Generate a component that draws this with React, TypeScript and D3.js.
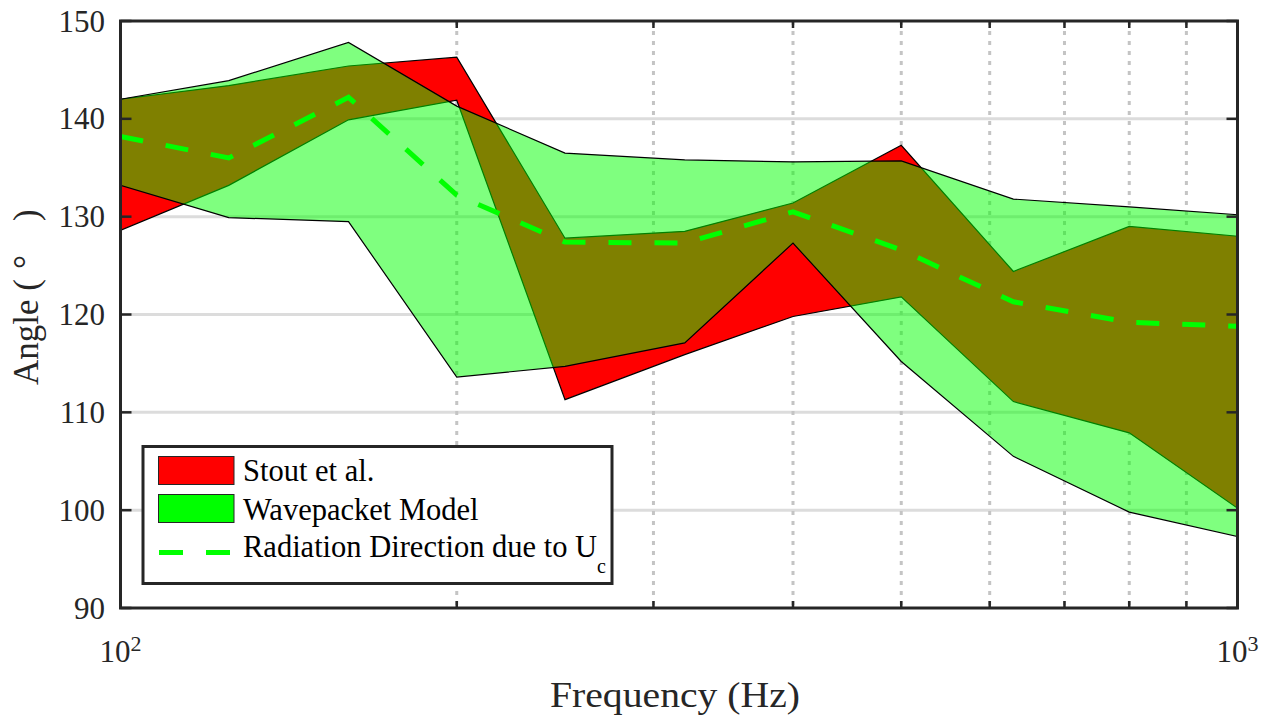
import React from 'react';
import * as d3 from 'd3';

// Frequencies (Hz) of the third-octave bands
const freqs = [100, 125, 160, 200, 250, 320, 400, 500, 630, 800, 1000];
// Stout et al. band (deg)
const stoutUpper = [142.0, 143.4, 145.4, 146.3, 127.8, 128.5, 131.4, 137.3, 124.4, 129.0, 128.0];
const stoutLower = [128.6, 133.2, 139.9, 141.9, 111.3, 115.9, 119.8, 121.8, 111.1, 107.9, 100.2];
// Wavepacket model band (deg)
const wpUpper = [142.0, 143.9, 147.8, 141.3, 136.5, 135.8, 135.6, 135.7, 131.8, 131.0, 130.2];
const wpLower = [133.2, 129.9, 129.5, 113.6, 114.7, 117.1, 127.3, 115.2, 105.5, 99.8, 97.3];
// Radiation direction due to Uc (deg)
const ucDir = [138.2, 136.0, 142.2, 132.2, 127.4, 127.3, 130.5, 126.6, 121.3, 119.2, 118.8];

const yTicks = [90, 100, 110, 120, 130, 140, 150];
const xMinorTicks = [200, 300, 400, 500, 600, 700, 800, 900];
const xMajorTicks = [100, 1000];
const xMajorExp = ['2', '3'];
const legendLabels = ['Stout et al.', 'Wavepacket Model', 'Radiation Direction due to U'];

const W = 1270;
const H = 719;
const L = 120.5, R = 1237.5, T = 21, B = 608;
const AX = '#262626';
const FONT = '"Liberation Serif", "Times New Roman", serif';

export default function App() {
  const x = d3.scaleLog().domain([100, 1000]).range([L, R]);
  const y = d3.scaleLinear().domain([90, 150]).range([B, T]);

  const band = (lo: number[], hi: number[]) =>
    d3.area<number>()
      .x((_, i) => x(freqs[i]))
      .y0((_, i) => y(lo[i]))
      .y1((_, i) => y(hi[i]))(freqs) || '';

  const line = d3.line<number>()
    .x((_, i) => x(freqs[i]))
    .y((d) => y(d))(ucDir) || '';

  const legX = 143, legY = 446.5, legW = 469, legH = 137;

  return (
    <svg width={W} height={H} style={{ position: 'absolute', left: 0, top: 0, background: '#fff' }}
      fontFamily={FONT}>
      <rect x={0} y={0} width={W} height={H} fill="#fff" />
      {/* horizontal grid */}
      {yTicks.slice(1, -1).map((t) => (
        <line key={'hg' + t} x1={L} x2={R} y1={y(t)} y2={y(t)} stroke="#dcdcdc" strokeWidth={3} />
      ))}
      {/* vertical minor grid (dotted) */}
      {xMinorTicks.map((t) => (
        <line key={'vg' + t} x1={x(t)} x2={x(t)} y1={T} y2={B} stroke="#c4c4c4" strokeWidth={3}
          strokeDasharray="4 6" />
      ))}
      {/* Stout et al. */}
      <path d={band(stoutLower, stoutUpper)} fill="#ff0000" stroke="#000" strokeWidth={1.2}
        strokeLinejoin="miter" />
      {/* Wavepacket */}
      <path d={band(wpLower, wpUpper)} fill="#00ff00" fillOpacity={0.5} stroke="#000"
        strokeWidth={1.2} />
      {/* Uc direction */}
      <path d={line} fill="none" stroke="#00ff00" strokeWidth={5} strokeDasharray="23 23" />

      {/* axes box */}
      <rect x={L} y={T} width={R - L} height={B - T} fill="none" stroke={AX} strokeWidth={3} />
      {/* y ticks */}
      {yTicks.map((t) => (
        <g key={'yt' + t}>
          <line x1={L} x2={L + 11} y1={y(t)} y2={y(t)} stroke={AX} strokeWidth={2.5} />
          <line x1={R} x2={R - 11} y1={y(t)} y2={y(t)} stroke={AX} strokeWidth={2.5} />
          <text x={105} y={y(t) + 10.5} textAnchor="end" fontSize={31} fill={AX}>{t}</text>
        </g>
      ))}
      {/* x minor ticks */}
      {xMinorTicks.map((t) => (
        <g key={'xt' + t}>
          <line x1={x(t)} x2={x(t)} y1={B} y2={B - 7} stroke={AX} strokeWidth={2.5} />
          <line x1={x(t)} x2={x(t)} y1={T} y2={T + 7} stroke={AX} strokeWidth={2.5} />
        </g>
      ))}
      {/* x major tick labels */}
      {xMajorTicks.map((t, i) => (
        <text key={'xl' + t} x={x(t)} y={661.5} textAnchor="middle" fontSize={31} fill={AX}>
          10<tspan dy={-11} fontSize={22}>{xMajorExp[i]}</tspan>
        </text>
      ))}
      {/* axis labels */}
      <text x={550} y={706.5} fontSize={35} fill={AX} textLength={250} lengthAdjust="spacingAndGlyphs">
        Frequency (Hz)
      </text>
      <text transform="translate(38,385) rotate(-90)" fontSize={35} fill={AX}>
        Angle (<tspan dx={10}>°</tspan><tspan dx={34}>)</tspan>
      </text>

      {/* legend */}
      <rect x={legX} y={legY} width={legW} height={legH} fill="#fff" stroke={AX} strokeWidth={3} />
      <rect x={158.5} y={456.5} width={75.5} height={28} fill="#ff0000" stroke={AX} strokeWidth={1} />
      <rect x={158.5} y={494.5} width={75.5} height={28} fill="#00ff00" stroke={AX} strokeWidth={1} />
      <line x1={159} x2={234} y1={552.5} y2={552.5} stroke="#00ff00" strokeWidth={5}
        strokeDasharray="24 23" />
      <text x={243} y={480.5} fontSize={30.5} fill="#000">{legendLabels[0]}</text>
      <text x={243} y={519.5} fontSize={30.5} fill="#000">{legendLabels[1]}</text>
      <text x={243} y={557} fontSize={30.5} fill="#000">
        {legendLabels[2]}<tspan dy={16} fontSize={20}>c</tspan>
      </text>
    </svg>
  );
}
